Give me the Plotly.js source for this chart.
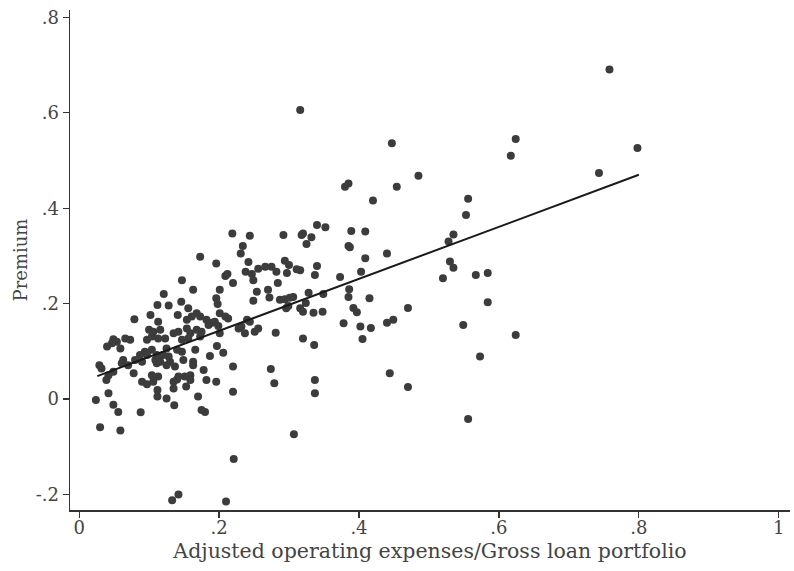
<!DOCTYPE html>
<html>
<head>
<meta charset="utf-8">
<script src="https://cdn.plot.ly/plotly-3.0.1.min.js"></script>
<style>html,body{margin:0;padding:0;background:#fff;}#chart{width:794px;height:571px;}</style>
</head>
<body>
<div id="chart"></div>
<script>
// Adjusted operating expenses / Gross loan portfolio (x) and Premium (y)
const expenseRatio = [
0.024,0.049,0.056,0.088,0.030,0.059,0.136,0.175,0.180,0.307,0.221,0.133,0.142,0.210,
0.147,0.163,0.121,0.112,0.128,0.146,0.156,0.168,0.161,0.102,0.141,0.079,0.113,0.154,
0.100,0.106,0.116,0.154,0.168,0.159,0.135,0.142,0.049,0.054,0.047,0.066,0.073,0.097,
0.104,0.113,0.123,0.147,0.156,0.040,0.059,0.094,0.104,0.125,0.140,0.147,0.166,0.087,
0.097,0.111,0.120,0.128,0.063,0.080,0.090,0.109,0.116,0.130,0.149,0.163,0.163,0.029,
0.032,0.061,0.070,0.111,0.125,0.137,0.049,0.042,0.078,0.039,0.104,0.113,0.142,0.151,
0.159,0.090,0.097,0.106,0.135,0.140,0.159,0.153,0.135,0.112,0.042,0.112,0.125,0.170,
0.219,0.244,0.292,0.318,0.320,0.332,0.325,0.340,0.352,0.234,0.231,0.173,0.242,0.196,
0.294,0.300,0.209,0.212,0.220,0.238,0.247,0.249,0.256,0.266,0.275,0.282,0.297,0.311,
0.316,0.284,0.340,0.337,0.201,0.254,0.270,0.272,0.249,0.196,0.198,0.349,0.328,0.287,
0.294,0.301,0.306,0.296,0.299,0.316,0.320,0.324,0.335,0.348,0.173,0.182,0.190,0.185,
0.201,0.209,0.213,0.194,0.199,0.228,0.232,0.240,0.244,0.237,0.251,0.256,0.201,0.281,
0.173,0.175,0.320,0.336,0.197,0.206,0.187,0.220,0.274,0.178,0.182,0.196,0.279,0.337,
0.220,0.337,0.316,
0.447,0.485,0.454,0.380,0.385,0.420,0.389,0.409,0.385,0.387,0.409,0.440,0.373,0.403,
0.386,0.385,0.415,0.392,0.397,0.470,0.378,0.402,0.417,0.405,0.440,0.449,0.444,0.470,
0.758,0.624,0.617,0.798,0.743,0.556,0.553,0.535,0.528,0.530,0.535,0.520,0.567,0.584,
0.584,0.549,0.624,0.573,0.556
];
const premium = [
-0.002,-0.012,-0.027,-0.028,-0.059,-0.066,-0.013,-0.023,-0.027,-0.074,-0.126,-0.212,-0.200,-0.215,
0.249,0.229,0.220,0.197,0.196,0.204,0.190,0.180,0.173,0.176,0.176,0.167,0.162,0.166,
0.145,0.141,0.145,0.148,0.145,0.138,0.138,0.141,0.125,0.120,0.117,0.127,0.124,0.124,
0.131,0.127,0.127,0.124,0.127,0.110,0.106,0.099,0.103,0.106,0.103,0.099,0.103,0.092,
0.092,0.092,0.092,0.089,0.082,0.082,0.078,0.082,0.078,0.078,0.082,0.078,0.071,0.071,
0.064,0.075,0.071,0.075,0.071,0.068,0.057,0.050,0.054,0.040,0.050,0.047,0.047,0.047,
0.050,0.036,0.031,0.036,0.036,0.041,0.040,0.026,0.022,0.019,0.012,0.005,0.001,0.005,
0.347,0.342,0.344,0.344,0.347,0.339,0.325,0.365,0.360,0.321,0.305,0.298,0.287,0.284,
0.290,0.281,0.258,0.262,0.243,0.267,0.262,0.249,0.273,0.277,0.277,0.267,0.264,0.272,
0.270,0.243,0.279,0.260,0.229,0.225,0.229,0.213,0.206,0.211,0.199,0.220,0.223,0.208,
0.209,0.212,0.214,0.190,0.195,0.190,0.183,0.201,0.181,0.183,0.173,0.166,0.160,0.155,
0.180,0.173,0.169,0.162,0.153,0.148,0.152,0.166,0.162,0.138,0.141,0.148,0.138,0.139,
0.131,0.141,0.127,0.113,0.111,0.097,0.090,0.068,0.063,0.061,0.040,0.036,0.033,0.040,
0.015,0.012,0.606,
0.536,0.468,0.445,0.445,0.452,0.416,0.352,0.351,0.321,0.318,0.295,0.305,0.256,0.267,
0.230,0.214,0.211,0.191,0.182,0.191,0.159,0.152,0.149,0.126,0.160,0.166,0.054,0.025,
0.691,0.545,0.510,0.526,0.474,0.420,0.386,0.345,0.330,0.288,0.275,0.253,0.260,0.264,
0.203,0.155,0.134,0.089,-0.042
];
// Fitted line endpoints
const fitX = [0.026, 0.800];
const fitY = [0.048, 0.470];

const xTickVals = [0, 0.2, 0.4, 0.6, 0.8, 1];
const xTickText = ["0", ".2", ".4", ".6", ".8", "1"];
const yTickVals = [-0.2, 0, 0.2, 0.4, 0.6, 0.8];
const yTickText = ["-.2", "0", ".2", ".4", ".6", ".8"];

const fontFam = "DejaVu Serif, Liberation Serif, serif";
const axisColor = "#333";

const traces = [
  {
    x: expenseRatio, y: premium, type: "scatter", mode: "markers",
    marker: {color: "#3c3c3c", size: 8, line: {width: 0}},
    hoverinfo: "x+y"
  },
  {
    x: fitX, y: fitY, type: "scatter", mode: "lines",
    line: {color: "#1a1a1a", width: 2}
  }
];

const layout = {
  width: 794, height: 571,
  margin: {l: 70, r: 4, t: 10, b: 61},
  paper_bgcolor: "#fff", plot_bgcolor: "#fff",
  showlegend: false,
  font: {family: fontFam, color: "#444", size: 17},
  xaxis: {
    range: [-0.013, 1.016],
    tickvals: xTickVals, ticktext: xTickText,
    ticks: "outside", ticklen: 6, tickwidth: 1.2, tickcolor: axisColor,
    ticklabelstandoff: -5,
    showline: true, linecolor: axisColor, linewidth: 1.5,
    showgrid: false, zeroline: false,
    tickfont: {family: fontFam, size: 18, color: "#444"},
    title: {text: "Adjusted operating expenses/Gross loan portfolio",
            font: {family: fontFam, size: 20.5, color: "#444"}, standoff: 6}
  },
  yaxis: {
    range: [-0.2327, 0.8155],
    tickvals: yTickVals, ticktext: yTickText,
    ticks: "outside", ticklen: 6, tickwidth: 1.2, tickcolor: axisColor,
    showline: true, linecolor: axisColor, linewidth: 1.5,
    showgrid: false, zeroline: false,
    tickfont: {family: fontFam, size: 18, color: "#444"},
    title: {text: "Premium", font: {family: fontFam, size: 18, color: "#444"}, standoff: 3}
  }
};

Plotly.newPlot("chart", traces, layout, {displayModeBar: false, staticPlot: true});
</script>
</body>
</html>
